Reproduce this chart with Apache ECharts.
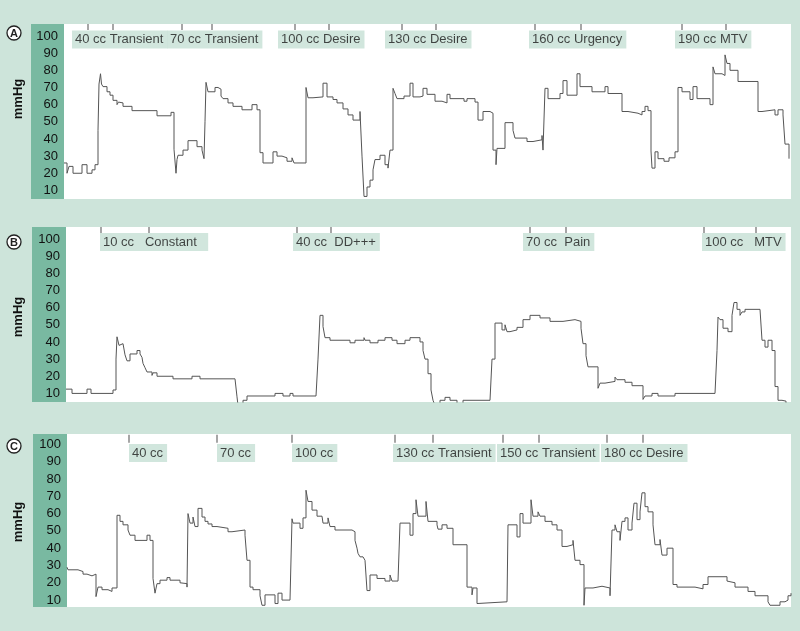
<!DOCTYPE html>
<html>
<head>
<meta charset="utf-8">
<script src="https://cdn.jsdelivr.net/npm/echarts@6/dist/echarts.min.js"></script>
<style>
  html, body { margin: 0; padding: 0; background: #cde4da; }
  #chart { width: 800px; height: 631px; }
</style>
</head>
<body>
<div id="chart"></div>
<script>
// pressure traces, [time, mmHg] (step trace)
const traceA = [[0,26],[3,20],[5,24],[9,20],[18,25],[23,20],[28,22],[31,25],[34,45],[35,72],[36.5,78],[37.5,72],[39,70.5],[43,67.5],[46,65.5],[49,62.5],[53,60],[54.5,61.5],[56,61],[59,59],[68,56.5],[75,57.5],[77,56.5],[84,57.5],[86,56.5],[93,53.5],[107,55.5],[110,34],[112,20],[113,28],[114,30.5],[119,33.5],[124,39],[133,35.5],[138,33.5],[140,28.5],[141,50],[142,73],[144,67.5],[151,70],[154,69],[157,65],[159,63.5],[164,61],[169,59],[178,57],[188,60],[193,57],[196,32],[199,26],[209,32.5],[213,30],[218,29],[223,27],[228,29],[230,26],[242,70],[244,64],[249,64.5],[259,72.5],[263,64.5],[269,63],[273,61],[279,57.5],[284,54],[289,51],[296,56],[298,30],[300,6.5],[303,12],[306,16],[309,22],[311,28],[316,30.5],[321,25],[324,23],[326,33.5],[329,69.5],[331,66.5],[333,63.5],[340,65],[346,72.5],[349,64.5],[356,65],[359,69.5],[363,66],[371,62],[378,61],[383,66],[386,63.5],[400,62],[403,63.5],[411,61.5],[414,51],[419,56],[426,55],[429,33.5],[432,25],[433,34.5],[441,49.5],[449,45],[451,40.5],[463,38.5],[469,39.5],[478,42],[479,33.5],[481,69.5],[484,63.5],[496,66.5],[499,74],[503,65.5],[513,78],[516,70.5],[528,67.5],[541,70.5],[544,66.5],[558,56],[564,55],[574,54],[578,56],[581,59],[584,56.5],[587,33],[588,23],[591,32.5],[594,28.5],[600,27],[605,29],[611,32.5],[614,70],[618,67.5],[626,63],[629,70.5],[633,63.5],[646,60],[649,82],[651,78],[658,77],[661,89],[663,84],[666,80],[674,73.5],[694,56],[698,57],[711,54],[714,57],[719,54],[721,37],[725,28.5]];

const traceB = [[0,12.5],[6,10],[21,12.5],[25,10],[47,12],[50,30],[51,43],[53,38],[55,39],[57,38],[59,32.5],[61,29],[64,33],[71,35],[74,33],[76,31],[77,27.5],[79,25],[81,22.5],[86,20.5],[87,22],[91,20],[107,18.5],[126,20],[134,18.5],[169,18.5],[171,8],[172,3],[177,6],[181,8.5],[189,8.5],[209,10],[217,8.5],[224,10],[227,8.5],[250,8.5],[252,30],[254,55.5],[257,49],[259,42.5],[264,41],[284,39.5],[289,41],[298,42.5],[299,41],[304,39.5],[312,41],[319,42.5],[326,41],[331,39],[339,41],[344,42.5],[354,40],[357,35],[359,30],[362,21.5],[365,12],[367,6],[369,3],[374,6],[379,7.7],[384,6],[391,3],[397,6],[424,6],[426,30],[429,51],[436,47],[439,50],[441,46],[444,47],[451,48.5],[457,53],[464,55.5],[474,54],[484,52],[497,53],[509,52],[515,48],[517,39],[520,32],[522,25.5],[532,13],[534,16],[539,17],[549,19.5],[551,18],[559,16.5],[566,14.5],[577,6.5],[579,8.5],[586,10],[592,8.5],[609,10],[649,10],[651,35],[652,54.5],[654,53],[657,48],[662,46],[666,55.5],[668,63],[671,59],[674,55.5],[676,57.5],[679,59],[694,59],[696,41],[699,37],[702,41],[706,35],[709,14],[712,6],[716,5.5],[720,3]];

const traceC = [[0,29],[1,27.5],[11,26.5],[16,25],[20,24],[25,25],[29,12],[31,17.5],[35,16],[41,15],[45,17],[50,59],[53,55.5],[56,53.5],[61,50.5],[63,47.5],[68,44.5],[80,47.5],[83,44.5],[86,22.5],[88,14],[90,19.5],[93,21.5],[100,23],[103,21.5],[113,20],[115,19.5],[120,17.5],[121,60],[123,54.5],[126,58],[128,52.5],[131,63],[135,58],[138,55.5],[141,54],[145,52.5],[150,51.5],[161,49.5],[165,50.5],[178,47.5],[180,33],[183,17.5],[186,16],[193,12.5],[195,7],[198,13],[208,8],[211,14],[215,10],[223,11],[225,57],[226,54.5],[233,51.5],[236,57.5],[239,73.5],[241,67],[245,62],[250,58.5],[255,57.5],[256,54.5],[261,57.5],[263,52.5],[268,50.5],[285,49.5],[288,44.5],[290,40],[291,37],[293,35],[296,36],[298,33],[300,15.5],[303,24.5],[310,22.5],[318,21],[323,24.5],[325,21],[331,20],[333,54.5],[343,47.5],[346,60],[349,68],[351,58.5],[359,67],[361,55.5],[370,53.5],[371,51],[375,53.5],[380,51.5],[386,42],[400,17.5],[405,13],[406,17],[410,8],[411,9],[440,9.5],[441,53.5],[450,46.5],[453,60],[456,54.5],[464,68],[466,58.5],[471,61],[473,58.5],[478,55.5],[485,53.5],[490,50.5],[495,41],[500,42],[506,44.5],[508,33],[513,30.5],[517,7],[518,17],[526,18],[535,17],[543,12.5],[545,50.5],[548,53.5],[550,49.5],[553,44.5],[555,55.5],[558,57.5],[561,50.5],[565,54.5],[567,66],[570,56.5],[573,61],[575,72],[578,64],[581,61],[586,53.5],[588,42],[593,45],[595,36],[600,40],[606,19],[610,17.5],[628,16.5],[636,19],[641,23.5],[660,21],[661,20],[668,17.5],[681,15],[688,12.5],[701,9],[703,7],[713,9],[718,10],[721,12.5],[724,14]];

// event annotations
const labelsA = ['40 cc Transient', '70 cc Transient', '100 cc Desire', '130 cc Desire', '160 cc Urgency', '190 cc MTV'];
const labelAtA = [8, 103, 214, 321, 465, 611];
const ticksA = [24, 49, 118, 148, 231, 265, 338, 372, 471, 517, 618, 662];

const labelsB = ['10 cc   Constant  ', '40 cc  DD+++', '70 cc  Pain', '100 cc   MTV'];
const labelAtB = [34, 227, 457, 636];
const ticksB = [35, 83, 231, 265, 464, 500, 638, 690];

const labelsC = ['40 cc', '70 cc', '100 cc', '130 cc Transient', '150 cc Transient', '180 cc Desire'];
const labelAtC = [62, 150, 225, 326, 430, 534];
const ticksC = [62, 150, 225, 328, 366, 436, 472, 540, 576];

const FONT = '"Liberation Sans", Arial, Helvetica, sans-serif';

const panels = [
  { key: 'A', trace: traceA, labels: labelsA, labelAt: labelAtA, ticks: ticksA,
    left: 64, top: 24, height: 175, min: 5, max: 107, interval: 5, span: 727,
    labelY: 98, tickY: 105.3, tickLen: 6, bandLeft: 31, circleY: 33, unitY: 99 },
  { key: 'B', trace: traceB, labels: labelsB, labelAt: labelAtB, ticks: ticksB,
    left: 66, top: 227, height: 175, min: 5, max: 107, interval: 5, span: 725,
    labelY: 98.3, tickY: 105.3, tickLen: 6, bandLeft: 32, circleY: 242, unitY: 317 },
  { key: 'C', trace: traceC, labels: labelsC, labelAt: labelAtC, ticks: ticksC,
    left: 67, top: 434, height: 173, min: 6, max: 106, interval: 2, span: 724,
    labelY: 95, tickY: 103.2, tickLen: 8, bandLeft: 33, circleY: 446, unitY: 522 }
];

const grid = [], xAxis = [], yAxis = [], series = [], graphic = [];

panels.forEach(function (p, i) {
  grid.push({ left: p.left, right: 9, top: p.top, height: p.height,
    show: true, backgroundColor: '#ffffff', borderWidth: 0 });
  xAxis.push({ gridIndex: i, type: 'value', min: 0, max: p.span, show: false });
  yAxis.push({
    gridIndex: i, type: 'value', min: p.min, max: p.max, interval: p.interval,
    axisLine: { show: false }, axisTick: { show: false }, splitLine: { show: false },
    axisLabel: {
      margin: 6, fontSize: 13, color: '#111', fontFamily: FONT,
      formatter: function (v) { return (v % 10 === 0 && v >= 10 && v <= 100) ? String(v) : '' }
    },
    z: 5
  });
  series.push({
    type: 'line', xAxisIndex: i, yAxisIndex: i, data: p.trace, step: 'end',
    showSymbol: false, clip: true, silent: true,
    lineStyle: { color: '#555555', width: 1 }
  });
  series.push({
    type: 'scatter', xAxisIndex: i, yAxisIndex: i, silent: true,
    symbol: 'rect', symbolSize: [1, p.tickLen],
    itemStyle: { color: '#222' },
    data: p.ticks.map(function (t) { return [t, p.tickY] })
  });
  series.push({
    type: 'scatter', xAxisIndex: i, yAxisIndex: i, silent: true,
    symbolSize: 0,
    data: p.labels.map(function (s, j) { return { name: s, value: [p.labelAt[j], p.labelY] } }),
    label: {
      show: true, position: 'right', distance: 0, formatter: '{b}',
      backgroundColor: '#c6e0d5', padding: [3, 4, 2, 3],
      fontSize: 13, color: '#1a1a1a', fontFamily: FONT
    }
  });

  // green band behind the y labels
  graphic.push({ type: 'rect', z: -1, silent: true,
    shape: { x: p.bandLeft, y: p.top, width: p.left - p.bandLeft, height: p.height },
    style: { fill: '#79b9a1' } });
  graphic.push({ type: 'circle', silent: true,
    shape: { cx: 14, cy: p.circleY, r: 7 },
    style: { fill: '#ffffff', stroke: '#222', lineWidth: 1.3 } });
  graphic.push({ type: 'text', silent: true, x: 14, y: p.circleY + 0.5,
    style: { text: p.key, font: 'bold 11px ' + FONT, fill: '#222', align: 'center', verticalAlign: 'middle' } });
  graphic.push({ type: 'text', silent: true, x: 18, y: p.unitY, rotation: Math.PI / 2,
    style: { text: 'mmHg', font: 'bold 13px ' + FONT, fill: '#111', align: 'center', verticalAlign: 'middle' } });
});

const chart = echarts.init(document.getElementById('chart'));
chart.setOption({
  backgroundColor: '#cde4da',
  animation: false,
  grid: grid,
  xAxis: xAxis,
  yAxis: yAxis,
  series: series,
  graphic: graphic
});
</script>
</body>
</html>
